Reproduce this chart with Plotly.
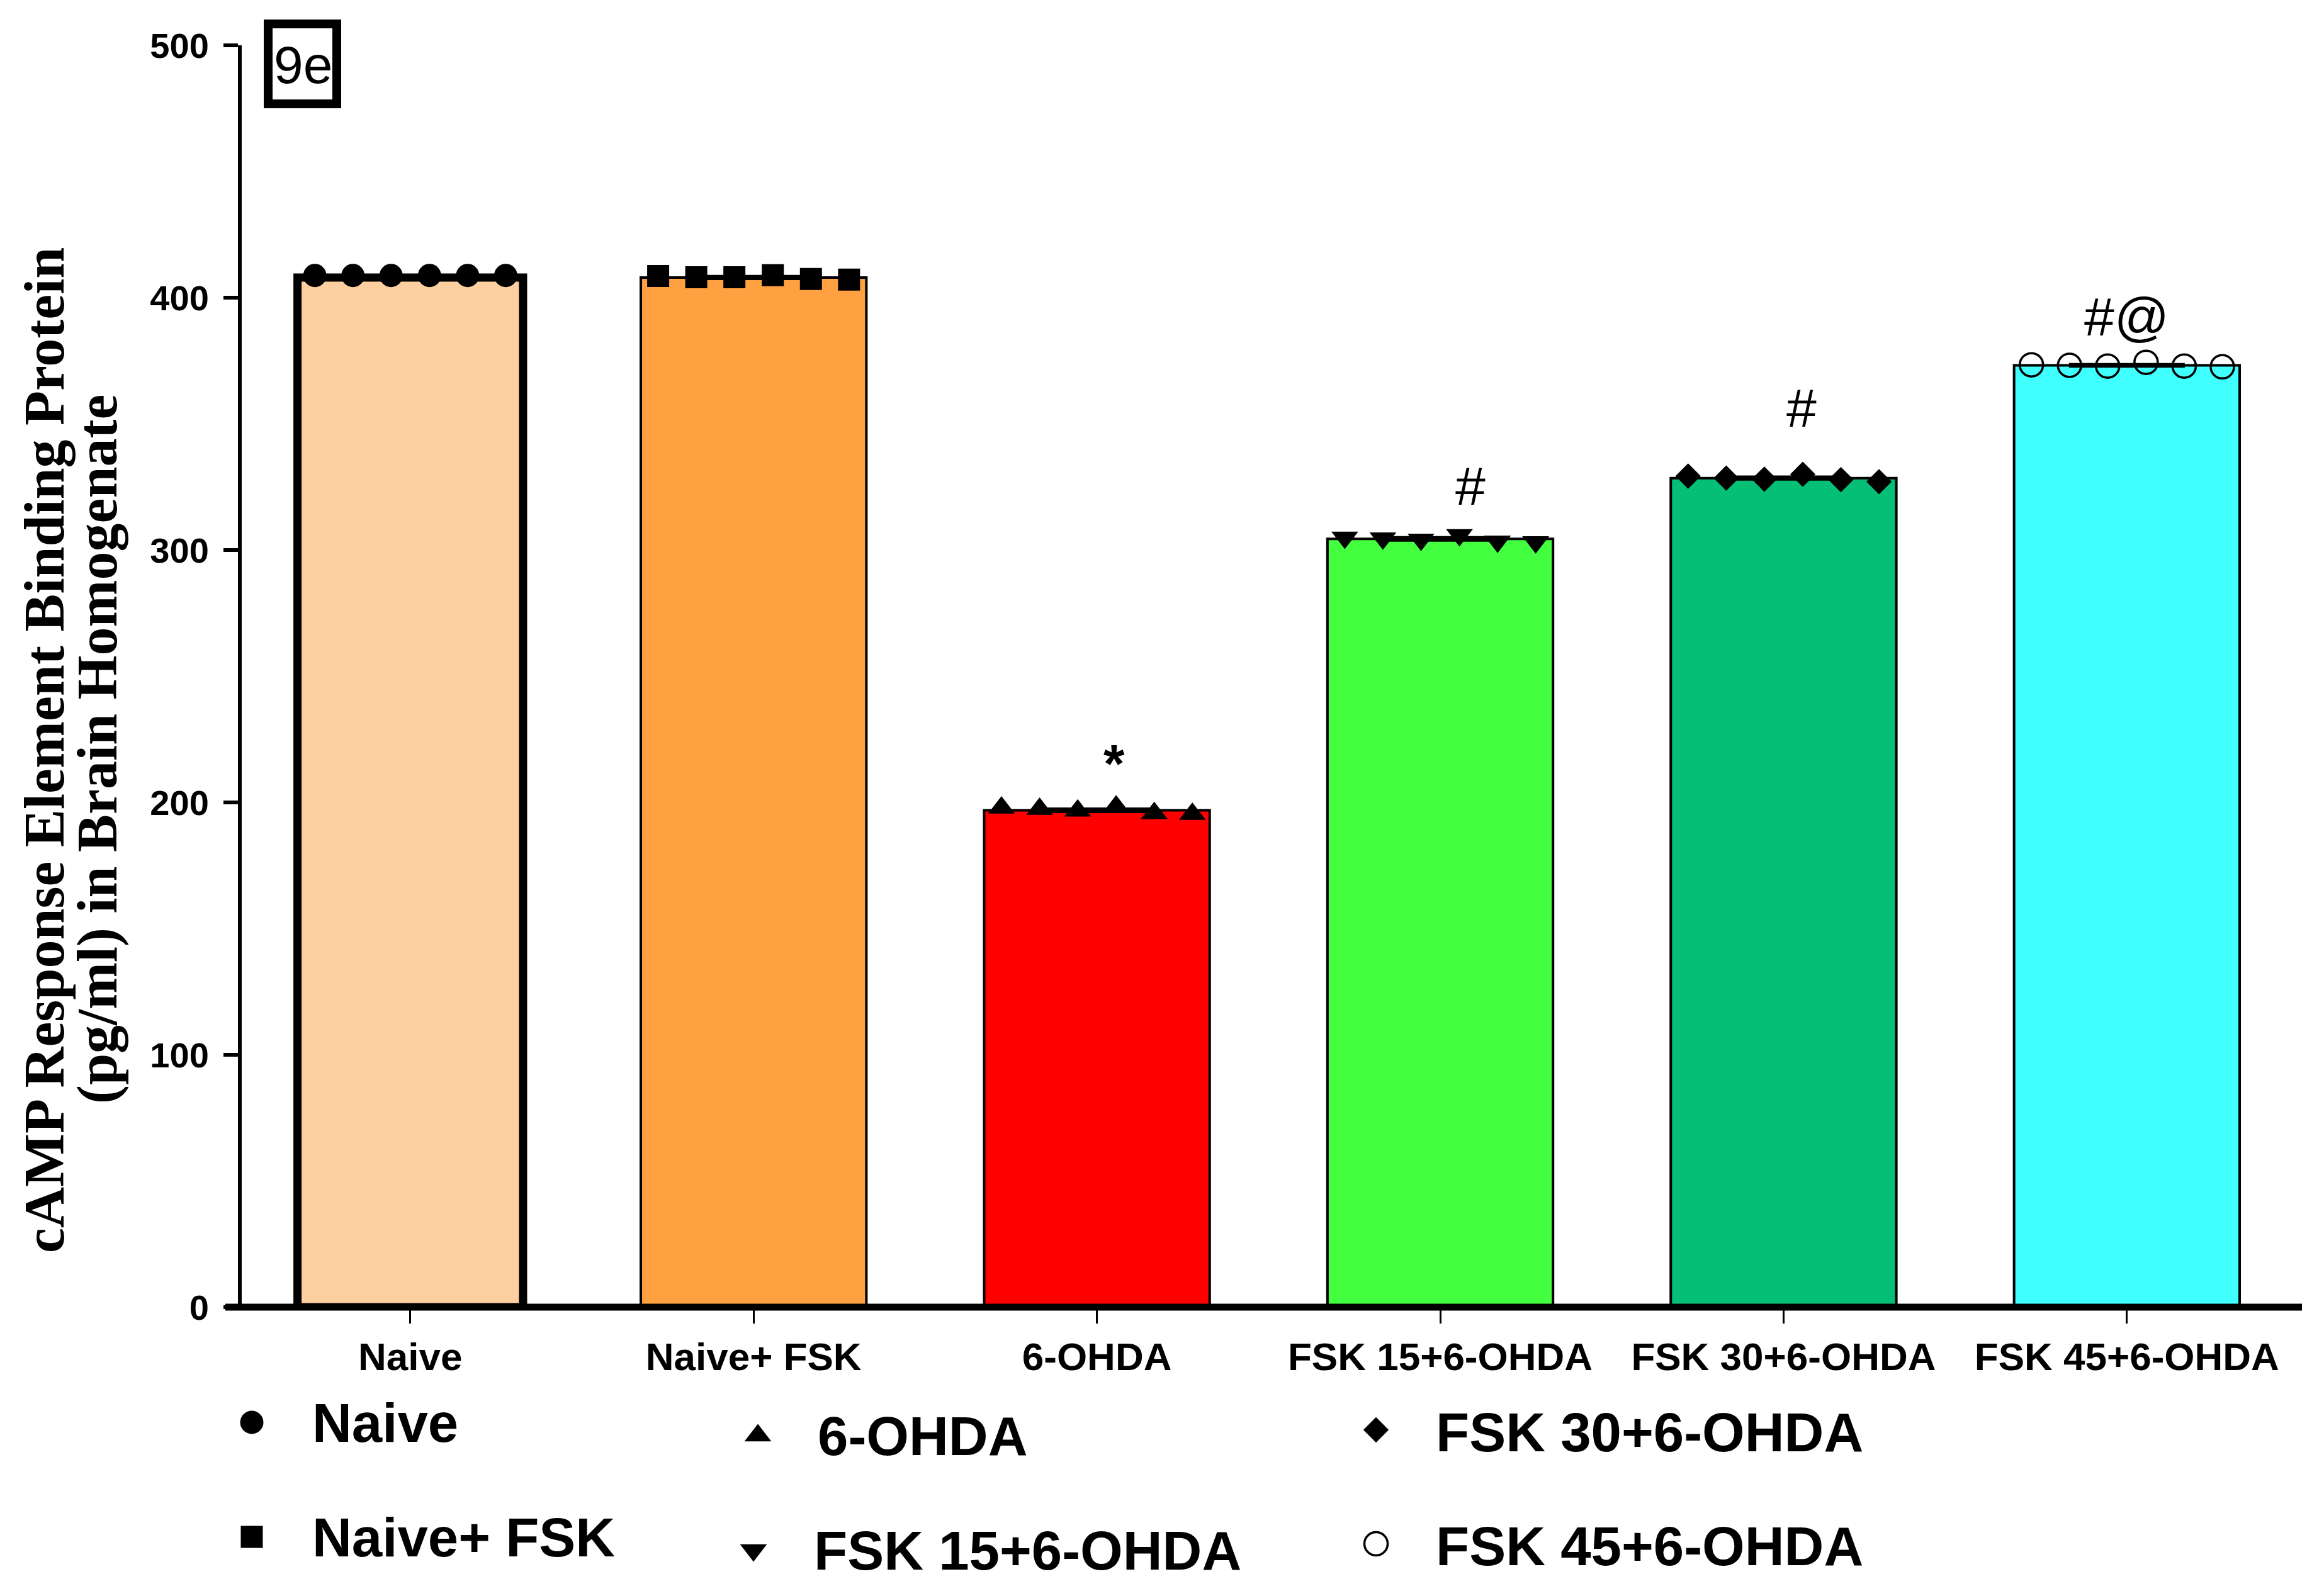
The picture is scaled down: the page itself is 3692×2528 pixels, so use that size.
import plotly.graph_objects as go

W, H = 3692, 2528
OFF = 8  # page body margin of the html page, compensated so the figure lands on the reference pixels

categories = ["Naive", "Naive+ FSK", "6-OHDA", "FSK 15+6-OHDA", "FSK 30+6-OHDA", "FSK 45+6-OHDA"]
bar_means = [408.0, 408.0, 196.9, 304.4, 328.5, 373.2]
bar_sems = [0.3, 0.4, 0.5, 0.5, 0.4, 0.3]

naive_pts = [408.8, 408.8, 408.8, 408.8, 408.8, 408.8]
naive_fsk_pts = [408.6, 408.1, 408.1, 408.9, 407.4, 407.2]
ohda_pts = [197.9, 197.4, 196.7, 198.3, 195.7, 195.4]
fsk15_pts = [305.0, 304.7, 304.2, 306.0, 303.4, 303.2]
fsk30_pts = [329.3, 328.5, 328.1, 330.0, 327.9, 327.1]
fsk45_pts = [373.4, 373.2, 372.9, 374.4, 372.9, 372.6]
group_points = [naive_pts, naive_fsk_pts, ohda_pts, fsk15_pts, fsk30_pts, fsk45_pts]

sig_labels = ["", "", "*", "#", "#", "#@"]

y_ticks = [0, 100, 200, 300, 400, 500]

# ---- styling ----
bar_colors = ["#FED0A1", "#FFA140", "#FF0000", "#43FF3F", "#05BF77", "#40FFFF"]
bar_line_w = [13, 4, 4, 4, 4, 4]
symbols = ["circle", "square", "triangle-up", "triangle-down", "diamond", "circle-open"]
sizes = [37, 35, 37, 37, 31, 37]
offsets = [-0.278, -0.167, -0.056, 0.056, 0.167, 0.278]

SANS = "Liberation Sans Narrow, Arial Narrow, Liberation Sans, Arial, sans-serif"
SERIF = "Liberation Serif, Times New Roman, serif"


def px(x):
    return (x - OFF) / W


def py(y):
    return 1 - (y - OFF) / H


xs = list(range(len(categories)))

fig = go.Figure()
fig.add_trace(go.Bar(
    x=xs, y=bar_means, width=0.657,
    marker=dict(color=bar_colors, line=dict(color="black", width=bar_line_w)),
    error_y=dict(type="data", array=bar_sems, visible=True, color="black", thickness=5, width=92),
    showlegend=False, xaxis="x", yaxis="y",
))

for i, pts in enumerate(group_points):
    mk = dict(symbol=symbols[i], size=sizes[i], color="black")
    if symbols[i] == "circle-open":
        mk["line"] = dict(color="black", width=3.5)
    else:
        mk["line"] = dict(width=0)
    fig.add_trace(go.Scatter(
        x=[i + o for o in offsets], y=pts, mode="markers", marker=mk,
        cliponaxis=False, showlegend=False, xaxis="x", yaxis="y",
    ))

# custom legend (markers on an invisible full-figure axis pair)
leg_marker_px = [(400, 2260), (400, 2442), (1204, 2281), (1197, 2463), (2186, 2272), (2186, 2453)]
leg_text_px = [(494, 2260), (494, 2442), (1297, 2281), (1291, 2463), (2279, 2275), (2279, 2456)]
for i, (mx, my) in enumerate(leg_marker_px):
    mk = dict(symbol=symbols[i], size=sizes[i], color="black")
    if symbols[i] == "circle-open":
        mk["line"] = dict(color="black", width=3.5)
    else:
        mk["line"] = dict(width=0)
    fig.add_trace(go.Scatter(
        x=[px(mx)], y=[py(my)], mode="markers", marker=mk, cliponaxis=False,
        showlegend=False, xaxis="x2", yaxis="y2",
    ))

annotations = []
for i, (tx, ty) in enumerate(leg_text_px):
    annotations.append(dict(
        text=categories[i], x=px(tx), y=py(ty), xref="paper", yref="paper",
        xanchor="left", yanchor="middle", showarrow=False,
        font=dict(family=SANS, size=87, color="black", weight="bold"),
    ))

# significance marks
sig_dx = [0, 0, 0.05, 0.088, 0.053, 0.0]
sig_y = [0, 0, 215.5, 325.4, 356.4, 392.4]
for i, s in enumerate(sig_labels):
    if not s:
        continue
    annotations.append(dict(
        text=s, x=i + sig_dx[i], y=sig_y[i], xref="x", yref="y",
        xanchor="center", yanchor="middle", showarrow=False,
        font=dict(family=SANS, size=86, color="black", weight="bold" if s == "*" else "normal"),
    ))

# panel label
annotations.append(dict(
    text="9e", x=px(481), y=py(103), xref="paper", yref="paper",
    xanchor="center", yanchor="middle", showarrow=False,
    font=dict(family=SANS, size=84, color="black"),
))

# y-axis title (two lines)
annotations.append(dict(
    text="cAMP Response Element Binding Protein", x=px(70), y=py(1192), xref="paper", yref="paper",
    xanchor="center", yanchor="middle", textangle=-90, showarrow=False,
    font=dict(family=SERIF, size=90, color="black", weight="bold"),
))
annotations.append(dict(
    text="(pg/ml) in Brain Homogenate", x=px(155), y=py(1191), xref="paper", yref="paper",
    xanchor="center", yanchor="middle", textangle=-90, showarrow=False,
    font=dict(family=SERIF, size=90, color="black", weight="bold"),
))

shapes = [
    dict(type="rect", xref="paper", yref="paper", x0=px(426), x1=px(535), y0=py(38), y1=py(165),
         line=dict(color="black", width=14), fillcolor="rgba(0,0,0,0)"),
    dict(type="line", xref="paper", yref="paper", x0=px(358), x1=px(3657), y0=py(2077), y1=py(2077),
         line=dict(color="black", width=11)),
]

fig.update_layout(
    width=W, height=H,
    margin=dict(l=0, r=0, t=0, b=0, autoexpand=False),
    paper_bgcolor="white", plot_bgcolor="rgba(0,0,0,0)",
    showlegend=False,
    xaxis=dict(
        domain=[px(384), px(3657)], range=[-0.491, 5.51], automargin=False,
        tickmode="array", tickvals=xs, ticktext=categories,
        ticks="outside", ticklen=25, tickwidth=2.5, tickcolor="black",
        showline=False, showgrid=False, zeroline=False, anchor="y",
        tickfont=dict(family=SANS, size=62, color="black", weight="bold"),
    ),
    yaxis=dict(
        domain=[py(2077), py(72)], range=[0, 500], automargin=False,
        tickmode="array", tickvals=y_ticks,
        ticks="outside", ticklen=23, tickwidth=6, tickcolor="black",
        showline=True, linewidth=6, linecolor="black",
        showgrid=False, zeroline=False, anchor="x", ticklabelstandoff=12,
        tickfont=dict(family=SANS, size=56, color="black", weight="bold"),
    ),
    xaxis2=dict(domain=[0, 1], range=[0, 1], visible=False, anchor="y2", fixedrange=True, automargin=False),
    yaxis2=dict(domain=[0, 1], range=[0, 1], visible=False, anchor="x2", fixedrange=True, automargin=False),
    annotations=annotations,
    shapes=shapes,
)

fig.write_html("out.html")
